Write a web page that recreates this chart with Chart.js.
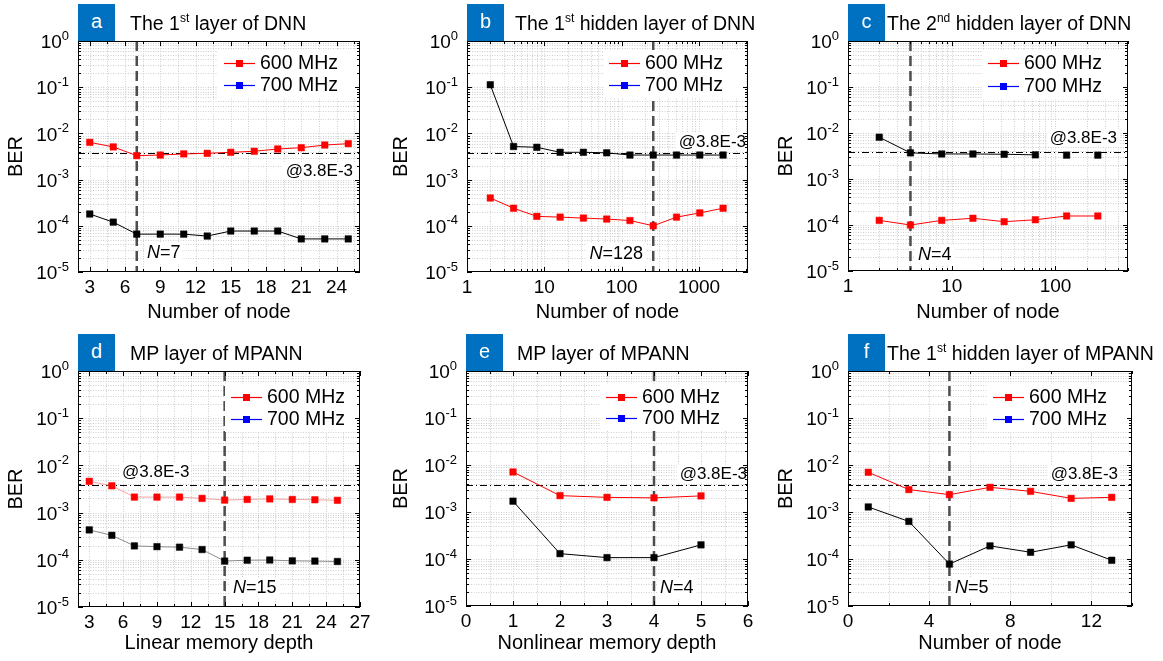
<!DOCTYPE html>
<html>
<head>
<meta charset="utf-8">
<script src="https://cdn.jsdelivr.net/npm/chart.js@4.4.1/dist/chart.umd.min.js"></script>
<style>
body { margin: 0; background: #fff; }
#wrap { position: relative; width: 1163px; height: 661px; overflow: hidden; font-family: 'Liberation Sans', Arial, sans-serif; }
#wrap canvas { position: absolute; }
.tag { position: absolute; width: 37px; height: 37px; background: #0070c0; color: #fff; font-size: 20px; line-height: 34px; text-align: center; z-index: 2; }
.ttl { position: absolute; font-size: 19.5px; line-height: 24px; color: #000; white-space: nowrap; z-index: 2; }
.ttl sup { font-size: 12px; line-height: 0; vertical-align: 8px; }
</style>
</head>
<body>
<div id="wrap"></div>
<script>
// ---- data ----
var yTicks = [1e-5, 1e-4, 1e-3, 1e-2, 1e-1, 1];
var threshold = 3.8e-3;
var seriesNames = ['600 MHz', '700 MHz'];

// a: the 1st layer of DNN
var aNodes = [3, 5, 7, 9, 11, 13, 15, 17, 19, 21, 23, 25];
var aBer600 = [6.4e-3, 5.1e-3, 3.3e-3, 3.4e-3, 3.6e-3, 3.7e-3, 3.9e-3, 4.1e-3, 4.6e-3, 4.9e-3, 5.6e-3, 6.0e-3];
var aBer700 = [1.8e-4, 1.2e-4, 6.6e-5, 6.6e-5, 6.6e-5, 6.0e-5, 7.7e-5, 7.7e-5, 7.7e-5, 5.2e-5, 5.2e-5, 5.2e-5];
var aTicks = [3, 6, 9, 12, 15, 18, 21, 24];

// b: the 1st hidden layer of DNN
var bNodes = [2, 4, 8, 16, 32, 64, 128, 256, 512, 1024, 2048];
var bBer600 = [4.0e-4, 2.4e-4, 1.6e-4, 1.54e-4, 1.47e-4, 1.4e-4, 1.3e-4, 1.0e-4, 1.54e-4, 1.9e-4, 2.4e-4];
var bBer700 = [0.113, 5.2e-3, 5.0e-3, 3.9e-3, 3.9e-3, 3.8e-3, 3.4e-3, 3.4e-3, 3.4e-3, 3.4e-3, 3.4e-3];
var bTicks = [1, 10, 100, 1000];

// c: the 2nd hidden layer of DNN
var cNodes = [2, 4, 8, 16, 32, 64, 128, 256];
var cBer600 = [1.26e-4, 1.0e-4, 1.26e-4, 1.4e-4, 1.18e-4, 1.3e-4, 1.57e-4, 1.57e-4];
var cBer700 = [8.1e-3, 3.7e-3, 3.5e-3, 3.5e-3, 3.45e-3, 3.35e-3, 3.3e-3, 3.3e-3];
var cTicks = [1, 10, 100];

// d: MP layer of MPANN, linear memory depth
var dDepth = [3, 5, 7, 9, 11, 13, 15, 17, 19, 21, 23, 25];
var dBer600 = [4.6e-3, 3.7e-3, 2.13e-3, 2.13e-3, 2.13e-3, 2.0e-3, 1.84e-3, 1.9e-3, 1.95e-3, 1.9e-3, 1.87e-3, 1.82e-3];
var dBer700 = [4.3e-4, 3.3e-4, 1.97e-4, 1.9e-4, 1.85e-4, 1.65e-4, 9.4e-5, 9.8e-5, 9.9e-5, 9.5e-5, 9.4e-5, 9.2e-5];
var dTicks = [3, 6, 9, 12, 15, 18, 21, 24, 27];

// e: MP layer of MPANN, nonlinear memory depth
var eDepth = [1, 2, 3, 4, 5];
var eBer600 = [7.1e-3, 2.23e-3, 2.05e-3, 2.0e-3, 2.2e-3];
var eBer700 = [1.7e-3, 1.3e-4, 1.07e-4, 1.07e-4, 2.0e-4];
var eTicks = [0, 1, 2, 3, 4, 5, 6];

// f: the 1st hidden layer of MPANN
var fNodes = [1, 3, 5, 7, 9, 11, 13];
var fBer600 = [7.0e-3, 3.0e-3, 2.34e-3, 3.35e-3, 2.75e-3, 1.95e-3, 2.05e-3];
var fBer700 = [1.28e-3, 6.3e-4, 7.8e-5, 1.9e-4, 1.39e-4, 2.0e-4, 9.4e-5];
var fTicks = [0, 4, 8, 12];

// ---- panel layout ----
var panels = [
  { tag: 'a', title: 'The 1<sup>st</sup> layer of DNN', titleX: 130, xLabel: 'Number of node',
    x: aNodes, s600: aBer600, s700: aBer700, xType: 'linear', xMin: 2, xMax: 26, xTicks: aTicks, xMinor: 1.5,
    cell: [0, 0, 385, 330], plot: [78, 41, 360, 272], nAt: 7, nText: '7', nPos: [147, 253, 'left'],
    thrPos: [353, 171, 'right'], thrDash: [7, 3, 1, 3], legX: 224, legY: [63, 85] },
  { tag: 'b', title: 'The 1<sup>st</sup> hidden layer of DNN', titleX: 515, xLabel: 'Number of node',
    x: bNodes, s600: bBer600, s700: bBer700, xType: 'logarithmic', xMin: 1, xMax: 4300, xTicks: bTicks,
    cell: [385, 0, 385, 330], plot: [82, 41, 363, 272], nAt: 256, nText: '128', nPos: [258, 254, 'right'],
    thrPos: [361, 142, 'right'], thrDash: [7, 3, 1, 3], legX: 224, legY: [63, 85] },
  { tag: 'c', title: 'The 2<sup>nd</sup> hidden layer of DNN', titleX: 887, xLabel: 'Number of node',
    x: cNodes, s600: cBer600, s700: cBer700, xType: 'logarithmic', xMin: 1, xMax: 500, xTicks: cTicks, breakAfter: 5,
    cell: [770, 0, 393, 330], plot: [78, 41, 358, 271], nAt: 4, nText: '4', nPos: [148, 255, 'left'],
    thrPos: [347, 138, 'right'], thrDash: [7, 3, 1, 3], legX: 218, legY: [63, 86] },
  { tag: 'd', title: 'MP layer of MPANN', titleX: 130, xLabel: 'Linear memory depth',
    x: dDepth, s600: dBer600, s700: dBer700, xType: 'linear', xMin: 2, xMax: 27, xTicks: dTicks, xMinor: 1.5, fade: true,
    cell: [0, 330, 385, 331], plot: [78, 41, 360, 277], nAt: 15, nText: '15', nPos: [233, 258, 'left'],
    thrPos: [122, 142, 'left'], thrDash: [7, 3, 1, 3], legX: 231, legY: [67, 89] },
  { tag: 'e', title: 'MP layer of MPANN', titleX: 517, xLabel: 'Nonlinear memory depth',
    x: eDepth, s600: eBer600, s700: eBer700, xType: 'linear', xMin: 0, xMax: 6, xTicks: eTicks, xMinor: 0.5,
    cell: [385, 330, 385, 331], plot: [81, 41, 363, 276], nAt: 4, nText: '4', nPos: [275, 258, 'left'],
    thrPos: [362, 144, 'right'], thrDash: [7, 3, 1, 3], legX: 221, legY: [67, 88] },
  { tag: 'f', title: 'The 1<sup>st</sup> hidden layer of MPANN', titleX: 887, xLabel: 'Number of node',
    x: fNodes, s600: fBer600, s700: fBer700, xType: 'linear', xMin: 0, xMax: 14, xTicks: fTicks, xMinor: 2,
    cell: [770, 330, 393, 331], plot: [78, 41, 362, 276], nAt: 5, nText: '5', nPos: [185, 258, 'left'],
    thrPos: [348, 144, 'right'], thrDash: [5, 3], legX: 223, legY: [67, 89] }
];

var RED = '#ff0000', BLACK = '#000000', BLUE = '#0000ff';
var FONT = "'Liberation Sans', Arial, sans-serif";

function logMinor(lo, hi) {
  var out = [];
  for (var e = Math.floor(Math.log10(lo)); e <= Math.ceil(Math.log10(hi)); e++) {
    for (var k = 1; k <= 9; k++) {
      var v = k * Math.pow(10, e);
      if (v >= lo * 0.999 && v <= hi * 1.001) out.push(v);
    }
  }
  return out;
}

function xGridValues(p) {
  if (p.xType === 'logarithmic') return logMinor(p.xMin, p.xMax);
  var out = [], v = p.xTicks[0];
  while (v - p.xMinor >= p.xMin) v -= p.xMinor;
  for (; v <= p.xMax + 1e-9; v += p.xMinor) out.push(v);
  return out;
}

function isMajorX(p, v) {
  return p.xTicks.some(function (t) { return Math.abs(t - v) < 1e-6 * Math.max(1, t); });
}

function makeDeco(p) {
  var xGrid = xGridValues(p);
  var yGrid = logMinor(1e-5, 1);
  return {
    id: 'deco',
    beforeDatasetsDraw: function (chart) {
      var ctx = chart.ctx, a = chart.chartArea;
      var xs = chart.scales.x, ys = chart.scales.y;
      ctx.save();
      ctx.beginPath();
      ctx.rect(a.left, a.top, a.right - a.left, a.bottom - a.top);
      ctx.clip();
      // dotted grid
      ctx.strokeStyle = '#cfcfcf';
      ctx.lineWidth = 1;
      ctx.setLineDash([1, 1.5]);
      xGrid.forEach(function (v) {
        var px = Math.round(xs.getPixelForValue(v)) + 0.5;
        ctx.beginPath(); ctx.moveTo(px, a.top); ctx.lineTo(px, a.bottom); ctx.stroke();
      });
      yGrid.forEach(function (v) {
        var py = Math.round(ys.getPixelForValue(v)) + 0.5;
        ctx.beginPath(); ctx.moveTo(a.left, py); ctx.lineTo(a.right, py); ctx.stroke();
      });
      // threshold
      var ty = Math.round(ys.getPixelForValue(threshold)) + 0.5;
      ctx.strokeStyle = '#000';
      ctx.setLineDash(p.thrDash);
      ctx.beginPath(); ctx.moveTo(a.left, ty); ctx.lineTo(a.right, ty); ctx.stroke();
      // optimum marker
      var nx = xs.getPixelForValue(p.nAt);
      ctx.strokeStyle = '#4d4d4d';
      ctx.lineWidth = 2.5;
      ctx.setLineDash([10, 5]);
      ctx.beginPath(); ctx.moveTo(nx, a.top); ctx.lineTo(nx, a.bottom); ctx.stroke();
      ctx.restore();
    },
    afterDatasetsDraw: function (chart) {
      var ctx = chart.ctx, a = chart.chartArea;
      var xs = chart.scales.x, ys = chart.scales.y;
      ctx.save();
      ctx.textBaseline = 'middle';

      // N= label
      ctx.font = 'italic 18px ' + FONT;
      var wN = ctx.measureText('N').width;
      ctx.font = '18px ' + FONT;
      var wR = ctx.measureText('=' + p.nText).width;
      var nx0 = p.nPos[2] === 'left' ? p.nPos[0] : p.nPos[0] - wN - wR;
      ctx.fillStyle = '#fff';
      ctx.fillRect(nx0 - 3, p.nPos[1] - 11, wN + wR + 6, 22);
      ctx.fillStyle = '#000';
      ctx.textAlign = 'left';
      ctx.font = 'italic 18px ' + FONT;
      ctx.fillText('N', nx0, p.nPos[1]);
      ctx.font = '18px ' + FONT;
      ctx.fillText('=' + p.nText, nx0 + wN, p.nPos[1]);

      // threshold text
      ctx.font = '17px ' + FONT;
      var tt = '@3.8E-3';
      var tw = ctx.measureText(tt).width;
      var tx0 = p.thrPos[2] === 'left' ? p.thrPos[0] : p.thrPos[0] - tw;
      ctx.fillStyle = '#fff';
      ctx.fillRect(tx0 - 3, p.thrPos[1] - 9, tw + 5, 18);
      ctx.fillStyle = '#000';
      ctx.fillText(tt, tx0, p.thrPos[1]);

      // legend
      var lx = p.legX, colors = [RED, BLUE];
      ctx.fillStyle = '#fff';
      ctx.fillRect(lx - 6, p.legY[0] - 13, a.right - 2 - (lx - 6), p.legY[1] - p.legY[0] + 26);
      ctx.font = '19.5px ' + FONT;
      chart.data.datasets.forEach(function (ds, i) {
        var y = p.legY[i];
        ctx.strokeStyle = colors[i];
        ctx.lineWidth = 1.2;
        ctx.setLineDash([]);
        ctx.beginPath(); ctx.moveTo(lx, y + 0.5); ctx.lineTo(lx + 31, y + 0.5); ctx.stroke();
        ctx.fillStyle = colors[i];
        ctx.fillRect(lx + 12, y - 3, 7, 7);
        ctx.fillStyle = '#000';
        ctx.fillText(ds.label, lx + 36, y + 1);
      });

      // frame and inward ticks
      ctx.setLineDash([]);
      ctx.strokeStyle = '#000';
      ctx.lineWidth = 1;
      ctx.strokeRect(a.left + 0.5, a.top + 0.5, a.right - a.left - 1, a.bottom - a.top - 1);
      xGrid.forEach(function (v) {
        var px = Math.round(xs.getPixelForValue(v)) + 0.5;
        var len = isMajorX(p, v) ? 5 : 3;
        ctx.beginPath();
        ctx.moveTo(px, a.bottom); ctx.lineTo(px, a.bottom - len);
        ctx.moveTo(px, a.top); ctx.lineTo(px, a.top + len);
        ctx.stroke();
      });
      yGrid.forEach(function (v) {
        var py = Math.round(ys.getPixelForValue(v)) + 0.5;
        var len = yTicks.indexOf(v) >= 0 ? 5 : 3;
        ctx.beginPath();
        ctx.moveTo(a.left, py); ctx.lineTo(a.left + len, py);
        ctx.moveTo(a.right, py); ctx.lineTo(a.right - len, py);
        ctx.stroke();
      });

      // y tick labels as 10 with a raised exponent
      ctx.fillStyle = '#000';
      yTicks.forEach(function (v) {
        var py = ys.getPixelForValue(v);
        var ex = String(Math.round(Math.log10(v)));
        ctx.font = '13px ' + FONT;
        var ew = ctx.measureText(ex).width;
        ctx.font = '19px ' + FONT;
        var bw = ctx.measureText('10').width;
        var right = a.left - 9;
        ctx.fillText('10', right - ew - bw, py + 2);
        ctx.font = '13px ' + FONT;
        ctx.fillText(ex, right - ew, py - 5);
      });
      ctx.restore();
    }
  };
}

var wrap = document.getElementById('wrap');

panels.forEach(function (p) {
  var cw = p.cell[2], ch = p.cell[3];
  var cv = document.createElement('canvas');
  cv.width = cw; cv.height = ch;
  cv.style.left = p.cell[0] + 'px';
  cv.style.top = p.cell[1] + 'px';
  cv.style.width = cw + 'px';
  cv.style.height = ch + 'px';
  wrap.appendChild(cv);

  var tag = document.createElement('div');
  tag.className = 'tag';
  tag.textContent = p.tag;
  tag.style.left = (p.cell[0] + p.plot[0]) + 'px';
  tag.style.top = (p.cell[1] + 4) + 'px';
  wrap.appendChild(tag);

  var ttl = document.createElement('div');
  ttl.className = 'ttl';
  ttl.innerHTML = p.title;
  ttl.style.left = p.titleX + 'px';
  ttl.style.top = (p.cell[1] + 11) + 'px';
  wrap.appendChild(ttl);

  var lineRed = p.fade ? '#f5a3a3' : RED;
  var lineBlack = p.fade ? '#8c8c8c' : BLACK;

  new Chart(cv, {
    type: 'line',
    data: {
      datasets: [
        {
          label: seriesNames[0],
          data: p.x.map(function (v, i) { return { x: v, y: p.s600[i] }; }),
          borderColor: lineRed, borderWidth: 1,
          pointStyle: 'rect', pointRadius: 4.6, pointBorderWidth: 0.5,
          pointBackgroundColor: RED, pointBorderColor: RED
        },
        {
          label: seriesNames[1],
          data: p.x.map(function (v, i) { return { x: v, y: p.s700[i] }; }),
          borderColor: lineBlack, borderWidth: 1,
          pointStyle: 'rect', pointRadius: 4.6, pointBorderWidth: 0.5,
          pointBackgroundColor: BLACK, pointBorderColor: BLACK,
          segment: p.breakAfter ? {
            borderColor: function (c) { return c.p0DataIndex >= p.breakAfter ? 'rgba(0,0,0,0)' : undefined; }
          } : undefined
        }
      ]
    },
    options: {
      responsive: false,
      animation: false,
      events: [],
      layout: { padding: { left: 0, top: p.plot[1], right: cw - p.plot[2], bottom: 0 } },
      plugins: { legend: { display: false }, tooltip: { enabled: false } },
      scales: {
        x: {
          type: p.xType, min: p.xMin, max: p.xMax,
          afterBuildTicks: function (s) { s.ticks = p.xTicks.map(function (v) { return { value: v }; }); },
          afterFit: function (s) { s.height = ch - p.plot[3]; },
          grid: { display: false, drawTicks: false },
          border: { display: false },
          ticks: {
            autoSkip: false, maxRotation: 0, padding: 4, color: '#000',
            font: { family: FONT, size: 19 },
            callback: function (v) { return String(v); }
          },
          title: { display: true, text: p.xLabel, color: '#000', font: { family: FONT, size: 20 }, padding: { top: 0, bottom: 6 } }
        },
        y: {
          type: 'logarithmic', min: 1e-5, max: 1,
          afterBuildTicks: function (s) { s.ticks = yTicks.map(function (v) { return { value: v }; }); },
          afterFit: function (s) { s.width = p.plot[0]; },
          grid: { display: false, drawTicks: false },
          border: { display: false },
          ticks: { display: false },
          title: { display: true, text: 'BER', color: '#000', font: { family: FONT, size: 20 }, padding: { top: 4, bottom: 0 } }
        }
      }
    },
    plugins: [makeDeco(p)]
  });
});
</script>
</body>
</html>
